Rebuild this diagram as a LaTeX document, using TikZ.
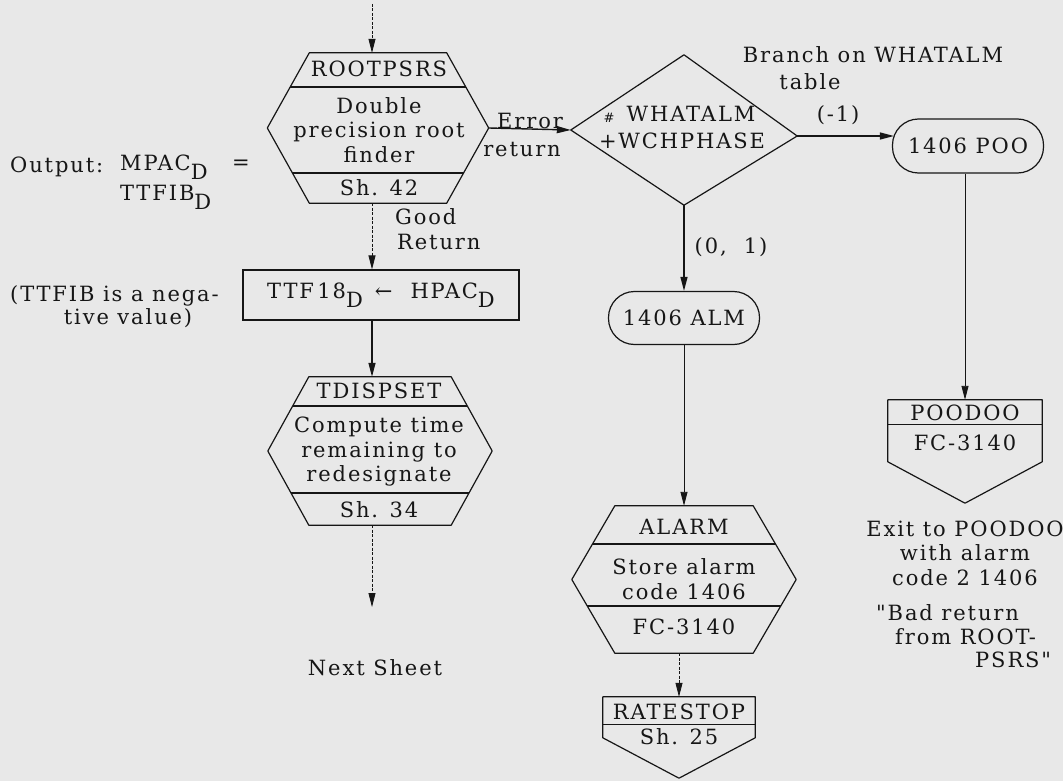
\documentclass[tikz,border=0pt]{standalone}
\usepackage{fontspec}
\setmainfont{DejaVu Serif}[LetterSpace=9, Ligatures=TeXOff]
\usetikzlibrary{arrows.meta,calc}
\definecolor{paper}{HTML}{E8E8E8}
\definecolor{ink}{HTML}{161616}

% lowered subscript letter, set at full size
\newcommand\lowsub[1]{\raisebox{-9pt}{#1}}
% hexagonal outline built on an invisible frame node
\newcommand\hexpath[2]{(#1.west) -- ([xshift=#2]#1.north west) -- ([xshift=-#2]#1.north east) -- (#1.east) -- ([xshift=-#2]#1.south east) -- ([xshift=#2]#1.south west) -- cycle}

\begin{document}
\begin{tikzpicture}[x=1pt,y=-1pt,
  every node/.style={font=\fontsize{21}{24.5}\selectfont, text=ink, inner sep=0pt, align=center},
  frame/.style 2 args={minimum width=#1pt, minimum height=#2pt},
  outline/.style={draw=ink, line width=1.2pt, line join=round},
  stadium/.style 2 args={draw=ink, line width=1.2pt, rounded corners=26pt, minimum width=#1pt, minimum height=#2pt},
  tip/.style={-{Triangle[length=14pt,width=7pt]}},
  flow/.style={draw=ink, line width=1.4pt, tip},
  thinflow/.style={draw=ink, line width=0.9pt, tip},
  dflow/.style={draw=ink, line width=0.8pt, dash pattern=on 3pt off 1.5pt, tip},
  small/.style={font=\fontsize{13}{14}\selectfont}]

% paper
\fill[paper] (0,0) rectangle (1063,781);
\useasboundingbox (0,0) rectangle (1063,781);

% ---- main column -------------------------------------------------
\coordinate (in) at (372,4);

\node[frame={221}{150}] (root) at (378,128) {};
\draw[outline] \hexpath{root}{42};
\begin{scope}
  \clip \hexpath{root}{42};
  \draw[outline] (root.west |- 0,87) -- (root.east |- 0,87);
  \draw[outline] (root.west |- 0,173) -- (root.east |- 0,173);
\end{scope}
\node (rootT) at (379,69) {ROOTPSRS};
\node (rootM) at (379,130) {Double\\precision root\\finder};
\node (rootB) at (379,188) {Sh. 42};

\node[draw=ink, line width=1.2pt, frame={276}{50}] (asg) at (381,295) {};
\node (asgT) at (asg) {TTF\,18\lowsub{D}\hspace{12pt}←\hspace{18pt}HPAC\lowsub{D}};

\node[frame={224}{148}] (td) at (380,451) {};
\draw[outline] \hexpath{td}{41};
\begin{scope}
  \clip \hexpath{td}{41};
  \draw[outline] (td.west |- 0,406) -- (td.east |- 0,406);
  \draw[outline] (td.west |- 0,493) -- (td.east |- 0,493);
\end{scope}
\node (tdT) at (379,391) {TDISPSET};
\node (tdM) at (379,452) {Compute time\\remaining to\\redesignate};
\node (tdB) at (379,510) {Sh. 34};

\coordinate (nextend) at (372,607);
\node (next) at (375,668) {Next Sheet};

\draw[dflow] (in) -- (in |- root.north);
\draw[dflow] (in |- root.south) -- (in |- asg.north);
\draw[flow] (in |- asg.south) -- (in |- td.north);
\draw[dflow] (in |- td.south) -- (nextend);

\node[anchor=west] (good) at (395,217) {Good};
\node[anchor=west] (ret) at (397,242) {Return};

% ---- notes on the left -------------------------------------------
\node[anchor=west] (outlbl) at (10,167) {Output:};
\node[anchor=west] (mpac) at (120,167) {MPAC\lowsub{D}};
\node (eq) at (241,165) {=};
\node[anchor=west] (ttfib) at (120,197) {TTFIB\lowsub{D}};
\node[anchor=west] (note1) at (10,296) {(TTFIB is a nega-};
\node (note2) at (128,318) {tive value)};

% ---- decision -----------------------------------------------------
\node[frame={226}{150}] (dia) at (684,130) {};
\draw[outline] (dia.west) -- (dia.north) -- ([yshift=-6pt]dia.east) -- (dia.south) -- cycle;
\node (diaT) at (691,114) {WHATALM};
\node (diaB) at (682,141) {+WCHPHASE};
\node[small] (hash) at (609,118) {\#};

\draw[flow] (root.east) -- (dia.west);
\node (err) at (530,121) {Error};
\node (errb) at (522,150) {return};

\node (branch) at (873,55) {Branch on WHATALM};
\node (branchb) at (810,82) {table};
\node (m1) at (838,115) {(-1)};
\node (p01) at (731,247) {(0,\ \ 1)};

% ---- right branch -------------------------------------------------
\node[stadium={151}{54}] (poo) at (968,146) {1406 POO};
\draw[flow] ([yshift=-6pt]dia.east) -- ([xshift=2pt,yshift=-6pt]dia.east -| poo.west);

\node[frame={154}{103}] (pd) at (965,451.5) {};
\draw[outline] (pd.north west) -- (pd.north east) -- ([yshift=-62pt]pd.north east) -- (pd.south) -- ([yshift=-62pt]pd.north west) -- cycle;
\draw[outline] ([yshift=-25pt]pd.north west) -- ([yshift=-25pt]pd.north east);
\node (pdT) at (965,413) {POODOO};
\node (pdB) at (965,443) {FC-3140};
\draw[thinflow] (poo.south -| pd.north) -- (pd.north);

\node (exit) at (965,553) {Exit to POODOO\\with alarm\\code 2 1406};
\node[anchor=west] (bad1) at (876,613) {"Bad return};
\node[anchor=west] (bad2) at (895,637) {from ROOT-};
\node[anchor=west] (bad3) at (975,660) {PSRS"};

% ---- alarm branch -------------------------------------------------
\node[stadium={151}{53}] (alm) at (684,318) {1406 ALM};
\draw[flow] (dia.south) -- (alm.north);

\node[frame={224}{147}] (alarm) at (684,579.5) {};
\draw[outline] \hexpath{alarm}{43};
\begin{scope}
  \clip \hexpath{alarm}{43};
  \draw[outline] (alarm.west |- 0,544) -- (alarm.east |- 0,544);
  \draw[outline] (alarm.west |- 0,606) -- (alarm.east |- 0,606);
\end{scope}
\node (alT) at (684,527) {ALARM};
\node (alM) at (684,579) {Store alarm\\code 1406};
\node (alB) at (684,627) {FC-3140};
\draw[thinflow] (alm.south) -- (alarm.north);

\node[frame={152}{81}] (rate) at (679,737.5) {};
\draw[outline] (rate.north west) -- (rate.north east) -- ([yshift=-41pt]rate.north east) -- (rate.south) -- ([yshift=-41pt]rate.north west) -- cycle;
\draw[outline] ([yshift=-28pt]rate.north west) -- ([yshift=-28pt]rate.north east);
\node (rtT) at (679,712) {RATESTOP};
\node (rtB) at (679,737) {Sh. 25};
\draw[dflow] (rate.north |- alarm.south) -- (rate.north);

\end{tikzpicture}
\end{document}
